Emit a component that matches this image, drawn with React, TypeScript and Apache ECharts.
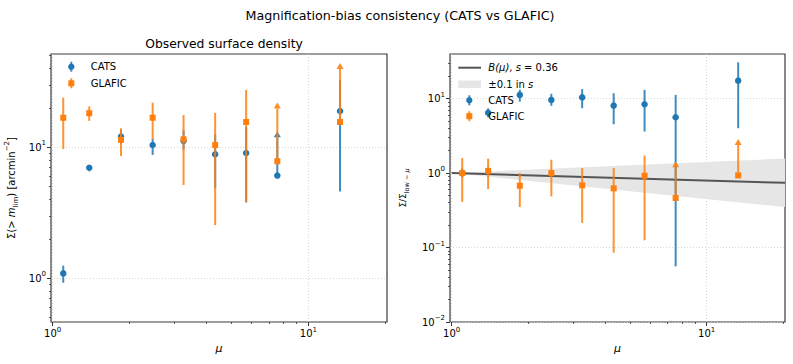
import React, { useEffect, useRef } from 'react';
import * as echarts from 'echarts';

const FONT = "'DejaVu Sans', sans-serif";
const BLUE = '#1f77b4';
const ORANGE = '#ff7f0e';

// Bin centres (magnification)
const mu = [1.10, 1.39, 1.85, 2.46, 3.25, 4.32, 5.71, 7.56, 13.3];

// Left panel: observed surface density
const catsSigma = [1.09, 6.98, 12.05, 10.4, 11.2, 8.84, 9.05, 6.08, 18.9];
const catsSigmaLo = [0.925, 6.56, 10.6, 8.74, 9.6, 4.9, 3.8, 6.08, 4.6];
const catsSigmaHi = [1.25, 7.3, 13.6, 11.6, 13.5, 12.5, 14.2, 11.9, 32.7];
const catsSigmaLim = [0, 0, 0, 0, 0, 0, 0, 1, 0];

const glaficSigma = [16.8, 18.2, 11.4, 16.8, 11.5, 10.4, 15.6, 7.82, 15.6];
const glaficSigmaLo = [9.7, 15.9, 8.59, 11.5, 5.15, 2.55, 3.8, 7.82, 15.6];
const glaficSigmaHi = [23.9, 20.5, 13.96, 21.9, 17.6, 18.3, 27.4, 19.8, 39.6];
const glaficSigmaLim = [0, 0, 0, 0, 0, 0, 0, 1, 1];

// Right panel: normalised ratio
const catsRatio = [1.0, 6.45, 11.2, 9.6, 10.4, 8.06, 8.4, 5.62, 17.4];
const catsRatioLo = [0.87, 5.6, 9.1, 8.0, 7.43, 4.53, 3.61, 0.056, 4.0];
const catsRatioHi = [1.15, 7.4, 13.1, 11.6, 13.4, 11.8, 13.1, 11.2, 30.7];
const catsRatioLim = [0, 0, 0, 0, 0, 0, 0, 0, 0];

const glaficRatio = [1.0, 1.07, 0.676, 1.0, 0.684, 0.623, 0.921, 0.463, 0.93];
const glaficRatioLo = [0.41, 0.61, 0.35, 0.487, 0.214, 0.085, 0.125, 0.463, 0.93];
const glaficRatioHi = [1.59, 1.56, 1.0, 1.51, 1.17, 1.17, 1.72, 1.2, 2.39];
const glaficRatioLim = [0, 0, 0, 0, 0, 0, 0, 1, 1];

// Model B(mu), s = 0.36 and the +-0.1 band
const modelMu = [1.0, 20.3];
const modelB = [1.0, 0.74];
const modelHi = [1.0, 1.57];
const modelLo = [1.0, 0.35];

// Tick values
const xMajor = [1, 10];
const xMinor = [2, 3, 4, 5, 6, 7, 8, 9, 20];
const yMajorLeft = [1, 10];
const yMinorLeft = [0.5, 0.6, 0.7, 0.8, 0.9, 2, 3, 4, 5, 6, 7, 8, 9, 20, 30, 40, 50];
const yMajorRight = [0.01, 0.1, 1, 10];
const yMinorRight = [0.02, 0.03, 0.04, 0.05, 0.06, 0.07, 0.08, 0.09, 0.2, 0.3, 0.4, 0.5, 0.6, 0.7, 0.8, 0.9, 2, 3, 4, 5, 6, 7, 8, 9, 20, 30];

const X_MIN = 0.985;
const X_MAX = 20.3;
const YL_MIN = 0.464;
const YL_MAX = 51.5;
const YR_MIN = 0.01;
const YR_MAX = 39.7;

const tickRich = {
  b: { fontSize: 10, fontFamily: FONT, color: '#000', lineHeight: 15, verticalAlign: 'middle' },
  s: { fontSize: 7, fontFamily: FONT, color: '#000', lineHeight: 15, verticalAlign: 'top' },
};

const powLabel = (v: number) => {
  const e = Math.round(Math.log10(v));
  return `{b|10}{s|${e < 0 ? '\u2212' + -e : e}}`;
};

const gridLine = { show: true, lineStyle: { color: '#cfcfcf', type: [1, 2], width: 0.8 } };

function xAxes(g: number) {
  return [
    {
      type: 'log', gridIndex: g, min: X_MIN, max: X_MAX, position: 'bottom',
      axisLine: { show: false },
      axisTick: { show: true, customValues: xMajor, length: 4, lineStyle: { color: '#333', width: 1 } },
      axisLabel: { show: true, customValues: xMajor, formatter: powLabel, rich: tickRich, margin: 4 },
      splitLine: gridLine,
      name: 'μ', nameLocation: 'middle', nameGap: 20,
      nameTextStyle: { fontFamily: FONT, fontSize: 11, fontStyle: 'italic', color: '#000' },
    },
    {
      type: 'log', gridIndex: g, min: X_MIN, max: X_MAX, position: 'bottom',
      axisLine: { show: false },
      axisTick: { show: true, customValues: xMinor, length: 2, lineStyle: { color: '#333', width: 0.8 } },
      axisLabel: { show: false }, splitLine: { show: false },
    },
  ];
}

function yAxes(g: number, min: number, max: number, major: number[], minor: number[], name: string, nameGap: number, nameRich: any) {
  return [
    {
      type: 'log', gridIndex: g, min, max, position: 'left',
      axisLine: { show: false },
      axisTick: { show: true, customValues: major, length: 4, lineStyle: { color: '#333', width: 1 } },
      axisLabel: { show: true, customValues: major, formatter: powLabel, rich: tickRich, margin: 5 },
      splitLine: gridLine,
      name, nameLocation: 'middle', nameGap, nameRotate: 90,
      nameTextStyle: { fontFamily: FONT, color: '#000', rich: nameRich },
    },
    {
      type: 'log', gridIndex: g, min, max, position: 'left',
      axisLine: { show: false },
      axisTick: { show: true, customValues: minor, length: 2, lineStyle: { color: '#333', width: 0.8 } },
      axisLabel: { show: false }, splitLine: { show: false },
    },
  ];
}

function errSeries(xi: number, yi: number, color: string, lo: number[], hi: number[], lim: number[], z: number) {
  return {
    type: 'custom', xAxisIndex: xi, yAxisIndex: yi, z, clip: true, silent: true,
    dimensions: ['x', 'lo', 'hi', 'lim'],
    encode: { x: 0, y: [1, 2] },
    data: mu.map((m, i) => [m, lo[i], hi[i], lim[i]]),
    renderItem: (_p: any, api: any) => {
      const x = api.value(0);
      const p1 = api.coord([x, api.value(1)]);
      const p2 = api.coord([x, api.value(2)]);
      const children: any[] = [
        { type: 'line', shape: { x1: p1[0], y1: p1[1], x2: p2[0], y2: p2[1] }, style: { stroke: color, lineWidth: 2, opacity: 0.85 } },
      ];
      if (api.value(3) === 1) {
        children.push({
          type: 'polygon',
          shape: { points: [[p2[0] - 3.5, p2[1]], [p2[0] + 3.5, p2[1]], [p2[0], p2[1] - 6]] },
          style: { fill: color, opacity: 0.9 },
        });
      }
      return { type: 'group', children };
    },
  };
}

function markSeries(name: string, xi: number, yi: number, color: string, vals: number[], symbol: string, size: number, z: number) {
  return {
    name, type: 'scatter', xAxisIndex: xi, yAxisIndex: yi, z, silent: true,
    symbol, symbolSize: size,
    itemStyle: { color, opacity: 1 },
    data: mu.map((m, i) => [m, vals[i]]),
  };
}

const leftNameRich = {
  n: { fontSize: 10, fontFamily: FONT, color: '#000', lineHeight: 16, verticalAlign: 'middle' },
  i: { fontSize: 10, fontFamily: FONT, color: '#000', fontStyle: 'italic', lineHeight: 16, verticalAlign: 'middle' },
  sub: { fontSize: 7, fontFamily: FONT, color: '#000', lineHeight: 16, verticalAlign: 'bottom' },
  sup: { fontSize: 7, fontFamily: FONT, color: '#000', lineHeight: 16, verticalAlign: 'top' },
};
const rightNameRich = {
  n: { fontSize: 9, fontFamily: FONT, color: '#000', lineHeight: 15, verticalAlign: 'middle' },
  sub: { fontSize: 6.5, fontFamily: FONT, color: '#000', lineHeight: 15, verticalAlign: 'bottom' },
  subi: { fontSize: 6.5, fontFamily: FONT, color: '#000', fontStyle: 'italic', lineHeight: 15, verticalAlign: 'bottom' },
};

function legendItem(x: number, y: number, color: string, marker: 'circle' | 'rect', label: string, tx: number) {
  const items: any[] = [
    { type: 'line', z: 100, shape: { x1: x, y1: y - 5, x2: x, y2: y + 5 }, style: { stroke: color, lineWidth: 2, opacity: 0.85 } },
  ];
  if (marker === 'circle') items.push({ type: 'circle', z: 101, shape: { cx: x, cy: y, r: 3.2 }, style: { fill: color } });
  else items.push({ type: 'rect', z: 101, shape: { x: x - 3, y: y - 3, width: 6, height: 6 }, style: { fill: color } });
  items.push({ type: 'text', z: 101, x: tx, y, style: { text: label, fontSize: 10, fontFamily: FONT, fill: '#000', verticalAlign: 'middle', align: 'left' } });
  return items;
}

const option: any = {
  animation: false,
  backgroundColor: '#fff',
  textStyle: { fontFamily: FONT },
  title: [
    { text: 'Magnification-bias consistency (CATS vs GLAFIC)', left: 395, textAlign: 'center', top: 4, textStyle: { fontFamily: FONT, fontSize: 12.7, fontWeight: 'normal', color: '#000' } },
    { text: 'Observed surface density', left: 219, textAlign: 'center', top: 33, textStyle: { fontFamily: FONT, fontSize: 12.3, fontWeight: 'normal', color: '#000' } },
  ],
  grid: [
    { left: 51, top: 54, width: 336, height: 268, show: true, borderColor: '#3a3a3a', borderWidth: 1.2, backgroundColor: 'transparent', containLabel: false },
    { left: 450, top: 54, width: 335, height: 268, show: true, borderColor: '#3a3a3a', borderWidth: 1.2, backgroundColor: 'transparent', containLabel: false },
  ],
  xAxis: [...xAxes(0), ...xAxes(1)],
  yAxis: [
    ...yAxes(0, YL_MIN, YL_MAX, yMajorLeft, yMinorLeft, '{n|Σ(> }{i|m}{sub|lim}{n|) [arcmin}{sup|\u22122}{n|]}', 32, leftNameRich),
    ...yAxes(1, YR_MIN, YR_MAX, yMajorRight, yMinorRight, '{n|Σ/Σ}{sub|low \u2212 }{subi|μ}', 40, rightNameRich),
  ],
  series: [
    // left panel
    errSeries(0, 0, BLUE, catsSigmaLo, catsSigmaHi, catsSigmaLim, 10),
    markSeries('CATS', 0, 0, BLUE, catsSigma, 'circle', 6.5, 11),
    errSeries(0, 0, ORANGE, glaficSigmaLo, glaficSigmaHi, glaficSigmaLim, 12),
    markSeries('GLAFIC', 0, 0, ORANGE, glaficSigma, 'rect', 6, 13),
    // right panel: model band + line
    {
      type: 'custom', xAxisIndex: 2, yAxisIndex: 2, z: 5, clip: true, silent: true,
      data: [[modelMu[0], modelLo[0], modelHi[0]]],
      encode: { x: 0, y: [1, 2] },
      renderItem: (_p: any, api: any) => {
        const upper = modelMu.map((m, i) => api.coord([m, modelHi[i]]));
        const lower = modelMu.map((m, i) => api.coord([m, modelLo[i]])).reverse();
        return { type: 'polygon', shape: { points: [...upper, ...lower] }, style: { fill: '#e6e6e6' } };
      },
    },
    {
      name: 'B(μ), s = 0.36', type: 'line', xAxisIndex: 2, yAxisIndex: 2, z: 6, silent: true,
      symbol: 'none', lineStyle: { color: '#555', width: 2 },
      data: modelMu.map((m, i) => [m, modelB[i]]),
    },
    errSeries(2, 2, BLUE, catsRatioLo, catsRatioHi, catsRatioLim, 10),
    markSeries('CATS', 2, 2, BLUE, catsRatio, 'circle', 6.5, 11),
    errSeries(2, 2, ORANGE, glaficRatioLo, glaficRatioHi, glaficRatioLim, 12),
    markSeries('GLAFIC', 2, 2, ORANGE, glaficRatio, 'rect', 6, 13),
  ],
  graphic: [
    // left legend
    ...legendItem(71.3, 66.7, BLUE, 'circle', 'CATS', 90.7),
    ...legendItem(71.3, 83.3, ORANGE, 'rect', 'GLAFIC', 90.7),
    // right legend
    { type: 'line', z: 100, shape: { x1: 458.3, y1: 67.7, x2: 481, y2: 67.7 }, style: { stroke: '#555', lineWidth: 2 } },
    {
      type: 'text', z: 101, x: 488.3, y: 67.7,
      style: {
        text: '{i|B(μ)}{n|, }{i|s}{n| = 0.36}', verticalAlign: 'middle', align: 'left',
        rich: {
          n: { fontSize: 10, fontFamily: FONT, fill: '#000' },
          i: { fontSize: 10, fontFamily: FONT, fill: '#000', fontStyle: 'italic' },
        },
      },
    },
    { type: 'rect', z: 100, shape: { x: 458.3, y: 80.5, width: 22.7, height: 7.5 }, style: { fill: '#e6e6e6' } },
    {
      type: 'text', z: 101, x: 488.3, y: 84.2,
      style: {
        text: '{n|±0.1 in }{i|s}', verticalAlign: 'middle', align: 'left',
        rich: {
          n: { fontSize: 10, fontFamily: FONT, fill: '#000' },
          i: { fontSize: 10, fontFamily: FONT, fill: '#000', fontStyle: 'italic' },
        },
      },
    },
    ...legendItem(469.3, 100.3, BLUE, 'circle', 'CATS', 488.3),
    ...legendItem(469.3, 116.2, ORANGE, 'rect', 'GLAFIC', 488.3),
  ],
};

export default function App() {
  const ref = useRef<HTMLDivElement>(null);
  useEffect(() => {
    const chart = echarts.init(ref.current!, null, { renderer: 'svg' });
    chart.setOption(option);
    return () => chart.dispose();
  }, []);
  return (
    <div
      ref={ref}
      style={{ position: 'fixed', left: 0, top: 0, width: 793, height: 364, background: '#fff' }}
    />
  );
}
